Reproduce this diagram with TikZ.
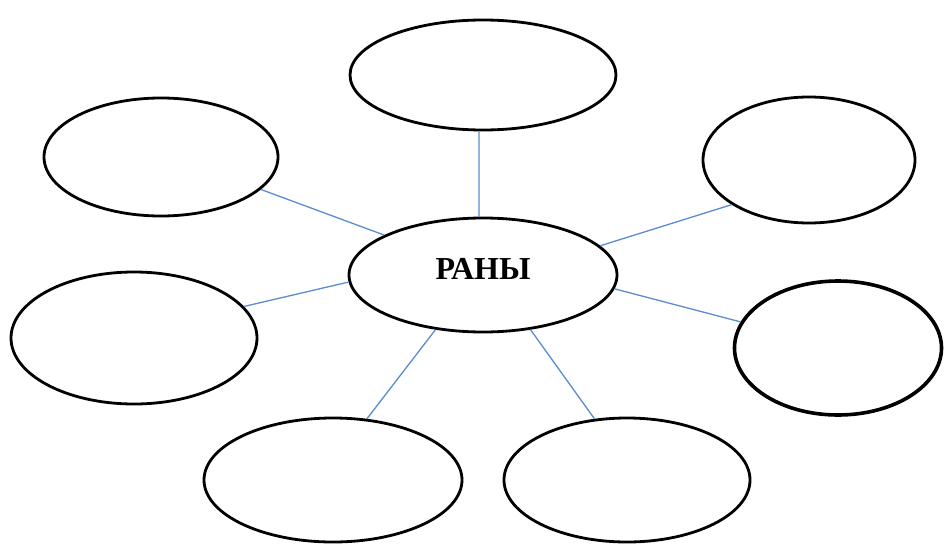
\documentclass[tikz,border=0pt]{standalone}
\usepackage{fontspec}
\setmainfont{Liberation Serif}
\usetikzlibrary{shapes.geometric}
\definecolor{linkblue}{HTML}{5B8BD0}
\tikzset{
  bubble/.style={ellipse, draw=black, line width=2.8pt, inner sep=0pt, fill=white},
  link/.style={draw=linkblue, line width=1.3pt}
}
\begin{document}
\begin{tikzpicture}[x=1pt,y=-1pt]
\useasboundingbox (0,0) rectangle (944,543);
\node[bubble, minimum width=268pt, minimum height=114pt] (c) at (483,275)
  {\raisebox{12pt}{\fontsize{32}{32}\selectfont\bfseries РАНЫ}};
\node[bubble, minimum width=266pt, minimum height=110pt] (t) at (483,75) {};
\node[bubble, minimum width=234pt, minimum height=118pt] (ul) at (161,157) {};
\node[bubble, minimum width=212pt, minimum height=126pt] (ur) at (809,160) {};
\node[bubble, minimum width=246pt, minimum height=132pt] (ml) at (134,338) {};
\node[bubble, line width=3.6pt, minimum width=207pt, minimum height=134pt] (mr) at (838,348) {};
\node[bubble, minimum width=258pt, minimum height=124pt] (bl) at (333,480) {};
\node[bubble, minimum width=246pt, minimum height=124pt] (br) at (627,480) {};
\draw[link] (c.94) -- (t.266);
\draw[link] (c.158.8) -- (ul.-18.8);
\draw[link] (c.14.5) -- (ur.210);
\draw[link] (c.183.4) -- (ml.16.7);
\draw[link] (c.-6) -- (mr.165);
\draw[link] (c.229.5) -- (bl.61.3);
\draw[link] (c.-49) -- (br.118);
\end{tikzpicture}
\end{document}
